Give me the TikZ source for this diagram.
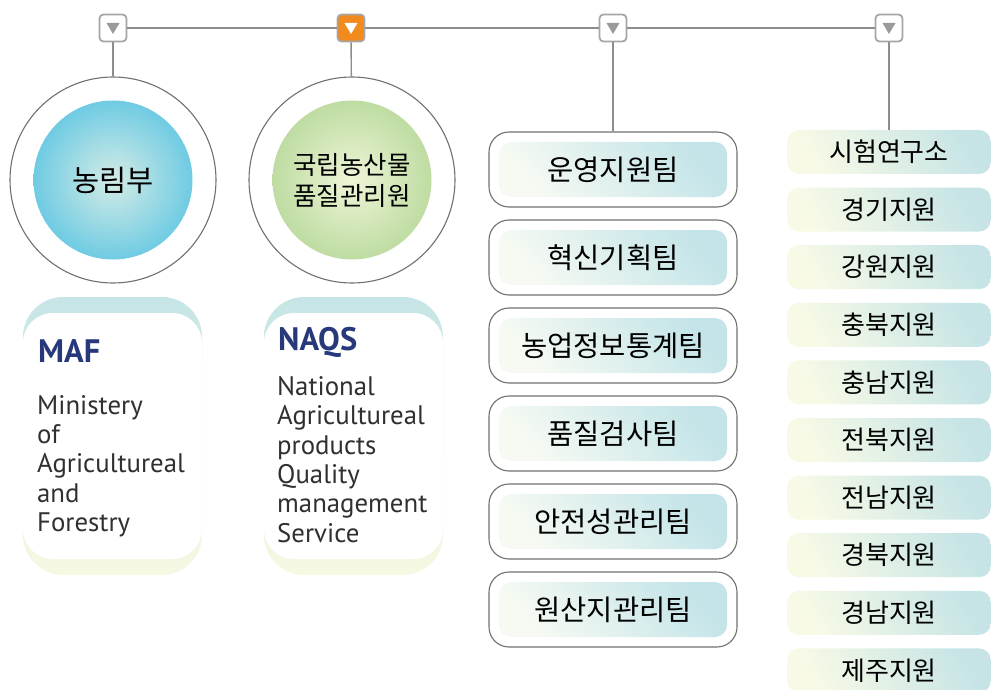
\documentclass[tikz,border=0pt]{standalone}
\usepackage{fontspec}
\setmainfont{PT Sans}
\newfontfamily\kr{Noto Sans CJK KR}
\usepackage{tikz}

\definecolor{conngray}{HTML}{8C8C8C}
\definecolor{tabgray}{HTML}{A6A6A6}
\definecolor{trigray}{HTML}{9A9A9A}
\definecolor{taborange}{HTML}{F28A1E}
\definecolor{ringgray}{HTML}{707070}
\definecolor{blueout}{HTML}{6FCBE3}
\definecolor{bluein}{HTML}{D4ECE6}
\definecolor{greenout}{HTML}{BEDCA2}
\definecolor{greenin}{HTML}{EFF5D8}
\definecolor{teamleft}{HTML}{F7FAF3}
\definecolor{teamright}{HTML}{C3E4E8}
\definecolor{branchleft}{HTML}{F8FAE6}
\definecolor{branchright}{HTML}{C6E4E6}
\definecolor{bandteal}{HTML}{C6E5E6}
\definecolor{bandyellow}{HTML}{F6F9E2}
\definecolor{navy}{HTML}{27397A}
\definecolor{bodygray}{HTML}{303030}

\begin{document}
\begin{tikzpicture}[x=1pt,y=-1pt,
  conn/.style={draw=conngray,line width=1.4pt},
  tab/.style={draw=tabgray,line width=1.8pt,fill=white,rounded corners=4pt,
    minimum size=27pt,inner sep=0pt,
    path picture={\fill[trigray,sharp corners] (path picture bounding box.center) ++(-6.5pt,5pt)
      -- ++(13pt,0pt) -- ++(-6.5pt,-11pt) -- cycle;}},
  tabon/.style={tab,fill=taborange,
    path picture={\fill[white,sharp corners] (path picture bounding box.center) ++(-6.5pt,5pt)
      -- ++(13pt,0pt) -- ++(-6.5pt,-11pt) -- cycle;}},
  ring/.style={circle,draw=ringgray,line width=1.1pt,fill=white,minimum size=206pt},
  ball/.style={circle,minimum size=159pt,inner sep=0pt,align=center},
  teambox/.style={draw=ringgray,line width=1.1pt,fill=white,rounded corners=20pt,
    minimum width=248pt,minimum height=75pt},
  teamin/.style={rounded corners=12pt,minimum width=228pt,minimum height=55pt,
    top color=teamright,bottom color=teamleft,shading angle=-50,
    font=\kr\fontsize{28.5}{32}\selectfont},
  branch/.style={rounded corners=12pt,minimum width=204pt,minimum height=44pt,
    top color=branchright,bottom color=branchleft,shading angle=-60,
    font=\kr\fontsize{26}{30}\selectfont}]
\useasboundingbox (0,0) rectangle (991,690);

% top bar
\node[tab] (m1) at (113,28) {};
\node[tabon] (m2) at (351,28) {};
\node[tab] (m3) at (613,28) {};
\node[tab] (m4) at (889,28) {};
\draw[conn] (m1) -- (m2);
\draw[conn] (m2) -- (m3);
\draw[conn] (m3) -- (m4);

% ministry circles
\node[ring] (c1) at (113,180) {};
\node[ball,inner color=bluein,outer color=blueout,font=\kr\fontsize{29.5}{34}\selectfont]
  (b1) at (c1) {농림부};
\node[ring] (c2) at (352,180) {};
\node[ball,inner color=greenin,outer color=greenout,font=\kr\fontsize{25.5}{31}\selectfont]
  (b2) at (c2) {국립농산물\\품질관리원};
\draw[conn] (m1) -- (c1);
\draw[conn] (m2) -- (c2);

% english cards
\shade[top color=bandteal,bottom color=bandyellow,rounded corners=40pt]
  (23,297) rectangle (202,575);
\fill[white,rounded corners=30pt] (23,313) rectangle (202,559);
\shade[top color=bandteal,bottom color=bandyellow,rounded corners=40pt]
  (264,297) rectangle (443,575);
\fill[white,rounded corners=30pt] (264,313) rectangle (443,559);

\node[anchor=base west,inner sep=0pt,text=navy,font=\bfseries\fontsize{32.5}{32}\selectfont]
  (maf) at (38,362) {MAF};
\node[anchor=north west,inner sep=0pt,align=left,text=bodygray,
  font=\fontsize{26.8}{29.3}\selectfont] (mafl) at (37,395)
  {Ministery\\of\\Agricultureal\\and\\Forestry};
\node[anchor=base west,inner sep=0pt,text=navy,font=\bfseries\fontsize{32.5}{32}\selectfont]
  (naqs) at (278,350) {NAQS};
\node[anchor=north west,inner sep=0pt,align=left,text=bodygray,
  font=\fontsize{26.8}{29.4}\selectfont] (naqsl) at (277,376)
  {National\\Agricultureal\\products\\Quality\\management\\Service};

% teams
\foreach \t [count=\i] in {운영지원팀,혁신기획팀,농업정보통계팀,품질검사팀,안전성관리팀,원산지관리팀}{
  \node[teambox] (s\i) at (613,{169.5+88*(\i-1)}) {};
  \node[teamin] (s\i in) at (s\i) {\t};
}
\draw[conn] (m3) -- (s1);

% branches
\foreach \t [count=\i] in {시험연구소,경기지원,강원지원,충북지원,충남지원,전북지원,전남지원,경북지원,경남지원,제주지원}{
  \node[branch] (r\i) at (889,{152+57.6*(\i-1)}) {\t};
}
\draw[conn] (m4) -- (r1);
\end{tikzpicture}
\end{document}
